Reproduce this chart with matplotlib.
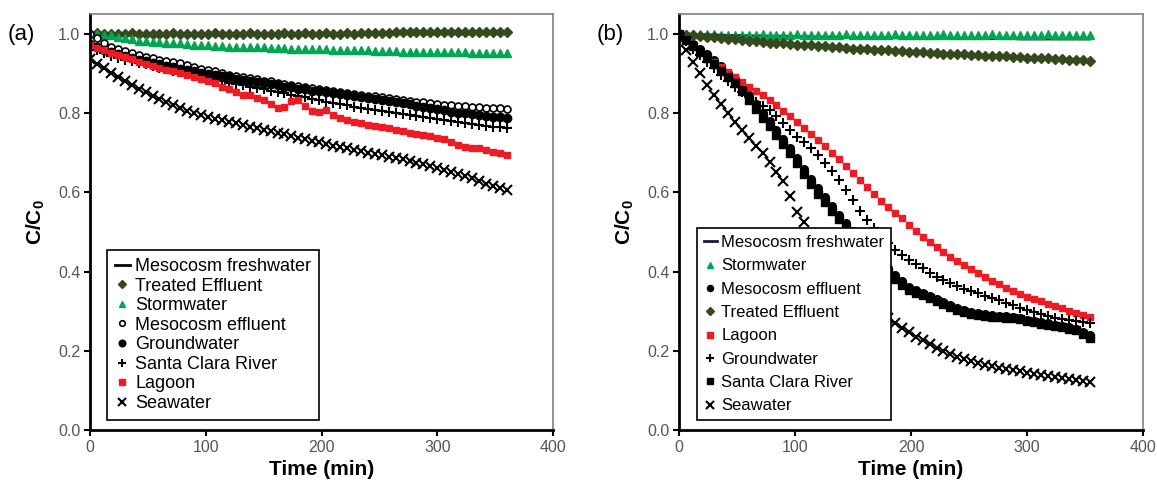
import matplotlib
matplotlib.use('Agg')
import matplotlib.pyplot as plt
import numpy as np

plt.rcParams['font.family'] = ['Liberation Sans', 'DejaVu Sans']
plt.rcParams['mathtext.fontset'] = 'custom'
plt.rcParams['mathtext.bf'] = 'Liberation Sans:bold'

# sampling times (min)
t_a = np.arange(0, 361, 6)
t_b = np.arange(0, 355, 6)

# ---------- panel (a) ----------
fresh_a = [1.000, 1.000, 0.999, 1.000, 1.000, 1.000, 0.999, 1.000, 1.000, 1.000,
           1.000, 1.000, 1.000, 0.999, 1.000, 1.000, 1.000, 1.000, 0.999, 1.000,
           1.000, 1.000, 1.000, 1.000, 0.999, 1.000, 1.000, 1.000, 1.000, 1.000,
           0.999, 1.000, 1.000, 1.000, 1.000, 1.000, 0.999, 1.000, 1.000, 1.000,
           1.000, 1.000, 1.000, 0.999, 1.000, 1.000, 1.000, 1.000, 1.000, 0.999,
           1.000, 1.000, 1.000, 1.000, 0.999, 1.000, 1.000, 1.000, 1.000, 1.000,
           1.000]
treated_a = [1.000, 1.001, 1.000, 1.000, 0.999, 1.000, 1.001, 1.000, 1.000, 1.000,
             1.000, 1.000, 1.001, 1.000, 1.000, 1.000, 1.000, 1.000, 1.001, 1.000,
             1.000, 1.000, 1.000, 1.001, 1.000, 1.000, 1.000, 1.000, 1.001, 1.000,
             1.000, 1.001, 1.000, 1.000, 1.001, 1.000, 1.000, 1.001, 1.000, 1.001,
             1.001, 1.002, 1.003, 1.003, 1.004, 1.004, 1.004, 1.005, 1.004, 1.004,
             1.005, 1.004, 1.004, 1.005, 1.004, 1.004, 1.005, 1.004, 1.004, 1.004,
             1.004]
storm_a = [1.000, 0.999, 0.998, 0.996, 0.992, 0.989, 0.986, 0.983, 0.981, 0.980,
           0.979, 0.978, 0.977, 0.976, 0.974, 0.973, 0.972, 0.971, 0.970, 0.969,
           0.968, 0.968, 0.967, 0.967, 0.966, 0.966, 0.965, 0.965, 0.964, 0.963,
           0.963, 0.962, 0.962, 0.961, 0.961, 0.960, 0.960, 0.959, 0.959, 0.958,
           0.958, 0.957, 0.957, 0.956, 0.956, 0.955, 0.955, 0.955, 0.955, 0.954,
           0.954, 0.954, 0.953, 0.953, 0.953, 0.952, 0.952, 0.952, 0.952, 0.951,
           0.951]
meso_eff_a = [1.000, 0.990, 0.978, 0.968, 0.962, 0.956, 0.951, 0.946, 0.941, 0.938,
              0.935, 0.932, 0.929, 0.926, 0.921, 0.916, 0.912, 0.909, 0.905, 0.900,
              0.896, 0.893, 0.890, 0.888, 0.885, 0.882, 0.880, 0.877, 0.874, 0.871,
              0.868, 0.866, 0.863, 0.861, 0.858, 0.856, 0.853, 0.851, 0.849, 0.846,
              0.844, 0.842, 0.840, 0.838, 0.836, 0.833, 0.831, 0.829, 0.827, 0.825,
              0.823, 0.821, 0.820, 0.818, 0.817, 0.816, 0.815, 0.814, 0.813, 0.812,
              0.811]
ground_a = [0.975, 0.968, 0.960, 0.953, 0.948, 0.943, 0.939, 0.935, 0.931, 0.927,
            0.924, 0.920, 0.916, 0.912, 0.908, 0.905, 0.902, 0.899, 0.896, 0.893,
            0.890, 0.887, 0.884, 0.881, 0.878, 0.875, 0.873, 0.870, 0.867, 0.865,
            0.862, 0.860, 0.857, 0.855, 0.852, 0.850, 0.847, 0.845, 0.842, 0.840,
            0.838, 0.835, 0.833, 0.830, 0.828, 0.825, 0.822, 0.819, 0.816, 0.813,
            0.810, 0.807, 0.804, 0.801, 0.799, 0.797, 0.795, 0.793, 0.791, 0.789,
            0.787]
santa_a = [0.965, 0.958, 0.951, 0.945, 0.940, 0.935, 0.931, 0.927, 0.923, 0.919,
           0.915, 0.911, 0.907, 0.903, 0.899, 0.895, 0.891, 0.888, 0.884, 0.881,
           0.877, 0.874, 0.870, 0.867, 0.863, 0.860, 0.857, 0.853, 0.850, 0.846,
           0.843, 0.840, 0.836, 0.833, 0.829, 0.826, 0.823, 0.820, 0.816, 0.813,
           0.810, 0.807, 0.805, 0.802, 0.800, 0.797, 0.795, 0.792, 0.790, 0.787,
           0.785, 0.782, 0.780, 0.777, 0.775, 0.772, 0.770, 0.768, 0.766, 0.764,
           0.762]
lagoon_a = [0.972, 0.965, 0.958, 0.952, 0.947, 0.942, 0.936, 0.930, 0.925, 0.920,
            0.915, 0.910, 0.905, 0.900, 0.896, 0.891, 0.887, 0.882, 0.875, 0.866,
            0.860, 0.852, 0.846, 0.845, 0.838, 0.833, 0.824, 0.813, 0.815, 0.830,
            0.833, 0.818, 0.805, 0.802, 0.808, 0.795, 0.788, 0.782, 0.778, 0.774,
            0.771, 0.768, 0.765, 0.762, 0.758, 0.754, 0.750, 0.747, 0.745, 0.742,
            0.737, 0.735, 0.728, 0.720, 0.714, 0.712, 0.712, 0.708, 0.703, 0.698,
            0.694]
sea_a = [0.937, 0.925, 0.913, 0.900, 0.890, 0.880, 0.870, 0.860, 0.852, 0.843,
         0.835, 0.828, 0.820, 0.812, 0.806, 0.800, 0.795, 0.790, 0.786, 0.782,
         0.778, 0.774, 0.770, 0.766, 0.762, 0.758, 0.754, 0.750, 0.746, 0.742,
         0.738, 0.734, 0.730, 0.726, 0.722, 0.718, 0.714, 0.711, 0.707, 0.704,
         0.700, 0.697, 0.693, 0.690, 0.686, 0.683, 0.679, 0.675, 0.671, 0.667,
         0.662, 0.657, 0.652, 0.646, 0.641, 0.635, 0.628, 0.622, 0.616, 0.610,
         0.605]

# ---------- panel (b) ----------
fresh_b = [1.000, 0.999, 0.999, 0.998, 0.998, 0.997, 0.997, 0.996, 0.996, 0.996,
           0.995, 0.995, 0.995, 0.994, 0.994, 0.994, 0.993, 0.993, 0.993, 0.993,
           0.992, 0.992, 0.992, 0.992, 0.991, 0.991, 0.991, 0.991, 0.991, 0.990,
           0.990, 0.990, 0.990, 0.990, 0.990, 0.989, 0.989, 0.989, 0.989, 0.989,
           0.989, 0.988, 0.988, 0.988, 0.988, 0.988, 0.988, 0.988, 0.988, 0.987,
           0.987, 0.987, 0.987, 0.987, 0.987, 0.987, 0.987, 0.987, 0.987, 0.987]
storm_b = [1.000, 1.000, 0.999, 0.999, 0.999, 0.999, 0.998, 0.998, 0.998, 0.998,
           0.998, 0.998, 0.999, 0.998, 0.998, 0.998, 0.998, 0.999, 0.998, 0.998,
           0.998, 0.998, 0.998, 0.998, 0.999, 0.998, 0.998, 0.998, 0.998, 0.998,
           0.998, 0.999, 0.998, 0.998, 0.998, 0.998, 0.998, 0.998, 0.999, 0.998,
           0.998, 0.998, 0.998, 0.998, 0.998, 0.999, 0.998, 0.998, 0.998, 0.998,
           0.998, 0.998, 0.998, 0.999, 0.998, 0.998, 0.998, 0.998, 0.998, 0.998]
meso_eff_b = [1.000, 0.988, 0.975, 0.962, 0.948, 0.933, 0.918, 0.902, 0.887, 0.866,
              0.845, 0.823, 0.801, 0.779, 0.757, 0.735, 0.712, 0.686, 0.659, 0.634,
              0.610, 0.588, 0.565, 0.543, 0.522, 0.502, 0.483, 0.465, 0.447, 0.429,
              0.410, 0.392, 0.375, 0.362, 0.353, 0.346, 0.338, 0.331, 0.323, 0.316,
              0.309, 0.304, 0.299, 0.295, 0.292, 0.290, 0.288, 0.287, 0.285, 0.282,
              0.278, 0.275, 0.272, 0.269, 0.266, 0.262, 0.259, 0.255, 0.248, 0.240]
treated_b = [1.000, 0.998, 0.996, 0.994, 0.993, 0.991, 0.989, 0.987, 0.986, 0.984,
             0.983, 0.981, 0.980, 0.978, 0.977, 0.976, 0.975, 0.973, 0.972, 0.971,
             0.970, 0.969, 0.967, 0.966, 0.965, 0.963, 0.962, 0.961, 0.960, 0.959,
             0.958, 0.957, 0.956, 0.955, 0.954, 0.953, 0.952, 0.951, 0.950, 0.949,
             0.949, 0.948, 0.947, 0.946, 0.945, 0.944, 0.944, 0.943, 0.942, 0.941,
             0.940, 0.939, 0.939, 0.938, 0.937, 0.936, 0.935, 0.934, 0.933, 0.932]
lagoon_b = [1.000, 0.985, 0.970, 0.955, 0.942, 0.930, 0.917, 0.904, 0.891, 0.879,
            0.867, 0.856, 0.845, 0.833, 0.820, 0.806, 0.792, 0.777, 0.762, 0.747,
            0.732, 0.716, 0.700, 0.684, 0.667, 0.650, 0.632, 0.614, 0.596, 0.578,
            0.562, 0.548, 0.534, 0.518, 0.502, 0.488, 0.474, 0.462, 0.450, 0.438,
            0.427, 0.417, 0.407, 0.397, 0.387, 0.377, 0.368, 0.359, 0.351, 0.344,
            0.337, 0.331, 0.325, 0.319, 0.313, 0.307, 0.301, 0.296, 0.291, 0.285]
ground_b = [1.000, 0.982, 0.963, 0.946, 0.930, 0.913, 0.897, 0.881, 0.867, 0.854,
            0.841, 0.829, 0.818, 0.808, 0.792, 0.775, 0.757, 0.740, 0.727, 0.711,
            0.695, 0.675, 0.653, 0.630, 0.607, 0.580, 0.552, 0.530, 0.510, 0.490,
            0.472, 0.455, 0.441, 0.430, 0.420, 0.408, 0.396, 0.386, 0.378, 0.370,
            0.363, 0.357, 0.351, 0.345, 0.339, 0.333, 0.327, 0.321, 0.315, 0.309,
            0.303, 0.297, 0.292, 0.288, 0.284, 0.281, 0.278, 0.275, 0.273, 0.270]
santa_b = [1.000, 0.985, 0.970, 0.955, 0.939, 0.923, 0.907, 0.891, 0.877, 0.855,
           0.832, 0.810, 0.788, 0.767, 0.745, 0.723, 0.700, 0.673, 0.645, 0.620,
           0.597, 0.576, 0.553, 0.532, 0.512, 0.492, 0.473, 0.455, 0.438, 0.420,
           0.400, 0.382, 0.366, 0.354, 0.347, 0.341, 0.333, 0.326, 0.318, 0.310,
           0.303, 0.298, 0.293, 0.290, 0.288, 0.286, 0.285, 0.284, 0.283, 0.279,
           0.275, 0.272, 0.268, 0.265, 0.262, 0.259, 0.256, 0.252, 0.243, 0.232]
sea_b = [0.990, 0.960, 0.930, 0.900, 0.872, 0.845, 0.822, 0.800, 0.778, 0.757,
         0.737, 0.718, 0.700, 0.676, 0.652, 0.628, 0.590, 0.550, 0.525, 0.498,
         0.472, 0.448, 0.425, 0.403, 0.382, 0.362, 0.344, 0.327, 0.311, 0.296,
         0.283, 0.270, 0.258, 0.247, 0.236, 0.226, 0.216, 0.207, 0.199, 0.192,
         0.185, 0.179, 0.174, 0.169, 0.165, 0.161, 0.157, 0.154, 0.151, 0.148,
         0.145, 0.142, 0.139, 0.136, 0.133, 0.131, 0.128, 0.126, 0.124, 0.121]

GREEN = '#00a651'
OLIVE = '#34491d'
RED = '#ed1c24'

fig = plt.figure(figsize=(11.57, 4.98), dpi=100)
ax_a = fig.add_axes([0.0778, 0.1365, 0.4002, 0.8353])
ax_b = fig.add_axes([0.5869, 0.1365, 0.4010, 0.8353])


def style_axes(ax):
    ax.set_xlim(0, 400)
    ax.set_ylim(0, 1.05)
    ax.set_xticks([0, 100, 200, 300, 400])
    ax.set_yticks([0.0, 0.2, 0.4, 0.6, 0.8, 1.0])
    ax.set_yticklabels(['0.0', '0.2', '0.4', '0.6', '0.8', '1.0'])
    for s in ['left', 'bottom']:
        ax.spines[s].set_linewidth(2)
        ax.spines[s].set_color('black')
    for s in ['top', 'right']:
        ax.spines[s].set_linewidth(1.2)
        ax.spines[s].set_color('#808080')
    ax.tick_params(direction='out', length=4, width=1.5, color='black',
                   labelcolor='#555555', labelsize=11.5, pad=3)
    ax.tick_params(top=False, right=False)
    ax.set_xlabel('Time (min)', fontsize=15, fontweight='bold', labelpad=4)
    ax.set_ylabel(r'$\mathbf{C/C_0}$', fontsize=15, labelpad=8)


# panel (a)
ax_a.plot(t_a, fresh_a, color='black', lw=2, label='Mesocosm freshwater')
ax_a.plot(t_a, treated_a, 'D', color=OLIVE, ms=5, label='Treated Effluent')
ax_a.plot(t_a, storm_a, '^', color=GREEN, ms=5.5, label='Stormwater')
ax_a.plot(t_a, meso_eff_a, 'o', mfc='white', mec='black', mew=1.2, ms=5, label='Mesocosm effluent')
ax_a.plot(t_a, ground_a, 'o', color='black', ms=6, label='Groundwater')
ax_a.plot(t_a, santa_a, '+', color='black', ms=7, mew=1.5, label='Santa Clara River')
ax_a.plot(t_a, lagoon_a, 's', color=RED, ms=5, label='Lagoon')
ax_a.plot(t_a, sea_a, 'x', color='black', ms=6.5, mew=1.5, label='Seawater')
style_axes(ax_a)
ax_a.legend(loc='lower left', bbox_to_anchor=(0.037, 0.024), borderaxespad=0,
            fontsize=13, frameon=True, fancybox=False, edgecolor='black', framealpha=1,
            handlelength=0.8, handletextpad=0.3, labelspacing=0.14, borderpad=0.45,
            markerscale=0.8).get_frame().set_linewidth(1.2)

# panel (b)
ax_b.plot(t_b, fresh_b, color='#1c1c3c', lw=2, label='Mesocosm freshwater')
ax_b.plot(t_b, storm_b, '^', color=GREEN, ms=5.5, label='Stormwater')
ax_b.plot(t_b, meso_eff_b, 'o', color='black', ms=5.5, label='Mesocosm effluent')
ax_b.plot(t_b, treated_b, 'D', color=OLIVE, ms=5.5, label='Treated Effluent')
ax_b.plot(t_b, lagoon_b, 's', color=RED, ms=5, label='Lagoon')
ax_b.plot(t_b, ground_b, '+', color='black', ms=7, mew=1.5, label='Groundwater')
ax_b.plot(t_b, santa_b, 's', color='black', ms=5.5, label='Santa Clara River')
ax_b.plot(t_b, sea_b, 'x', color='black', ms=7.5, mew=1.5, label='Seawater')
style_axes(ax_b)
ax_b.legend(loc='lower left', bbox_to_anchor=(0.039, 0.024), borderaxespad=0,
            fontsize=12, frameon=True, fancybox=False, edgecolor='black', framealpha=1,
            handlelength=0.8, handletextpad=0.25, labelspacing=0.5, borderpad=0.4,
            markerscale=0.8).get_frame().set_linewidth(1.2)

fig.text(0.007, 0.93, '(a)', fontsize=16, va='center', ha='left')
fig.text(0.516, 0.93, '(b)', fontsize=16, va='center', ha='left')

fig.savefig('out.png', dpi=100)
